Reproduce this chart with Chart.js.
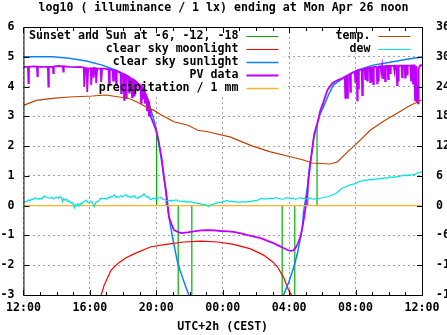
<!DOCTYPE html>
<html>
<head>
<meta charset="utf-8">
<style>
  html, body { margin: 0; padding: 0; background: #fff; overflow: hidden; }
  #wrap { width: 447px; height: 335px; }
</style>
<script src="https://cdn.jsdelivr.net/npm/chart.js@4.4.1/dist/chart.umd.min.js"></script>
</head>
<body>
<div id="wrap"><canvas id="c" width="447" height="335"></canvas></div>
<script>
// Hours are counted from 12:00 (noon) on the previous day; values are log10(lx),
// temperatures are in degrees C on the right-hand axis.
const xTickLabels = ['12:00', '16:00', '20:00', '00:00', '04:00', '08:00', '12:00'];

// Sunset, civil / nautical / astronomical dusk, then the same in reverse at dawn
const sunEventHours  = [8.02, 8.60, 9.32, 10.14, 15.58, 16.34, 17.12, 17.68];
const sunEventLevels = [2.48, 0.25, -4.0, -4.0, -4.0, -4.0, 0.55, 2.70];

const moonlight = [
  [4.50, -3.3], [4.68, -3.0], [4.86, -2.67], [5.28, -2.16], [5.70, -1.93], [6.18, -1.75],
  [6.66, -1.62], [7.68, -1.38], [8.70, -1.29], [9.66, -1.22], [10.68, -1.19], [11.70, -1.22],
  [12.66, -1.30], [13.68, -1.45], [14.46, -1.66], [15.00, -1.88], [15.30, -2.06], [15.66, -2.40],
  [15.96, -2.83], [16.14, -3.0], [16.26, -3.2]
];

const sunlightEvening = [
  [0, 5.00], [1.74, 5.00], [2.76, 4.95], [3.78, 4.86], [4.74, 4.72], [5.58, 4.55], [6.18, 4.38],
  [6.66, 4.21], [7.14, 3.99], [7.44, 3.65], [7.68, 3.21], [7.86, 2.87], [8.10, 2.30], [8.40, 1.19],
  [8.58, 0.42], [8.70, -0.15], [8.82, -0.58], [8.94, -0.95], [9.06, -1.30], [9.30, -1.95],
  [9.60, -2.45], [9.78, -2.73], [9.96, -3.0], [10.20, -3.4]
];
const sunlightMorning = [
  [15.40, -3.4], [15.66, -3.0], [15.96, -2.6], [16.26, -2.1], [16.50, -1.6], [16.68, -1.1],
  [16.80, -0.72], [16.86, -0.25], [16.98, 0.19], [17.10, 0.62], [17.22, 1.29], [17.40, 1.87],
  [17.46, 2.20], [17.70, 2.77], [17.88, 3.10], [18.06, 3.31], [18.36, 3.71], [18.66, 4.05],
  [19.26, 4.28], [20.10, 4.55], [21.06, 4.72], [22.08, 4.82], [23.10, 4.92], [24, 4.99]
];

const pvData = [
  [0, 4.65], [0.20, 4.66], [0.27, 4.66], [0.30, 4.12], [0.33, 4.66], [0.60, 4.68], [0.81, 4.67],
  [0.84, 4.35], [0.87, 4.67], [1.20, 4.66], [1.47, 4.66], [1.50, 4.00], [1.53, 4.66], [1.77, 4.67],
  [1.80, 4.45], [1.83, 4.67], [2.10, 4.69], [2.37, 4.68], [2.40, 4.50], [2.43, 4.68], [2.80, 4.66],
  [3.10, 4.65], [3.40, 4.66], [3.63, 4.64], [3.66, 3.99], [3.72, 4.62], [3.81, 4.62], [3.84, 3.82],
  [3.90, 4.60], [4.05, 4.62], [4.08, 4.05], [4.14, 4.60], [4.20, 4.62], [4.23, 4.30], [4.29, 4.62],
  [4.35, 4.62], [4.38, 4.11], [4.44, 4.60], [4.65, 4.60], [4.68, 4.15], [4.74, 4.60], [4.90, 4.60],
  [5.13, 4.58], [5.16, 4.05], [5.20, 4.58], [5.37, 4.55], [5.40, 4.20], [5.45, 4.55], [5.55, 4.53],
  [5.58, 4.05], [5.62, 4.52], [5.85, 4.45], [5.88, 3.78], [5.92, 4.44], [6.03, 4.42], [6.06, 3.55],
  [6.10, 4.40], [6.15, 4.38], [6.18, 3.62], [6.22, 4.37], [6.33, 4.33], [6.36, 3.80], [6.40, 4.30],
  [6.50, 4.25], [6.54, 3.65], [6.58, 4.24], [6.63, 4.22], [6.66, 3.70], [6.70, 4.20], [6.75, 4.17],
  [6.78, 3.90], [6.82, 4.15], [6.95, 4.08], [7.05, 4.02], [7.08, 3.45], [7.12, 4.00], [7.17, 3.95],
  [7.20, 3.60], [7.24, 3.90], [7.29, 3.85], [7.32, 3.45], [7.36, 3.75], [7.41, 3.68], [7.44, 3.20],
  [7.48, 3.60], [7.53, 3.45], [7.56, 3.00], [7.60, 3.30], [7.68, 2.97],
  [7.80, 2.80], [7.98, 2.54], [8.16, 2.10], [8.34, 1.53], [8.46, 0.96], [8.58, 0.52], [8.70, -0.05],
  [8.76, -0.38], [8.94, -0.65], [9.06, -0.82], [9.30, -0.88], [9.48, -0.92],
  [9.90, -0.90], [10.26, -0.86], [10.70, -0.83], [11.10, -0.82], [11.50, -0.83], [11.88, -0.85],
  [12.30, -0.86], [12.66, -0.88], [13.10, -0.93], [13.50, -0.99], [13.90, -1.04], [14.28, -1.09],
  [14.70, -1.18], [15.06, -1.26], [15.40, -1.35], [15.66, -1.42], [15.90, -1.49], [16.08, -1.52],
  [16.25, -1.50], [16.38, -1.42], [16.50, -1.30], [16.56, -1.22], [16.70, -1.00], [16.80, -0.72],
  [16.90, -0.40], [16.98, -0.10],
  [17.10, 0.42], [17.16, 0.86], [17.28, 1.43], [17.40, 1.97], [17.52, 2.43], [17.70, 2.77],
  [17.88, 3.20], [18.06, 3.47], [18.30, 3.88], [18.60, 4.11], [18.90, 4.21], [19.20, 4.28],
  [19.35, 4.33], [19.38, 3.62], [19.42, 4.35], [19.47, 4.36], [19.50, 3.62], [19.54, 4.38],
  [19.65, 4.42], [19.68, 3.82], [19.72, 4.44], [19.85, 4.48], [19.95, 4.50], [19.98, 4.16],
  [20.02, 4.52], [20.07, 4.53], [20.10, 3.54], [20.13, 4.54], [20.16, 3.94], [20.20, 4.55],
  [20.37, 4.57], [20.40, 3.71], [20.44, 4.58], [20.55, 4.60], [20.58, 4.25], [20.62, 4.60],
  [20.67, 4.62], [20.70, 4.20], [20.74, 4.62], [20.85, 4.63], [20.88, 4.15], [20.92, 4.64],
  [20.97, 4.64], [21.00, 4.20], [21.03, 4.65], [21.06, 4.08], [21.10, 4.66], [21.27, 4.66],
  [21.30, 4.11], [21.33, 4.66], [21.36, 4.20], [21.40, 4.67], [21.50, 4.68], [21.55, 4.45],
  [21.60, 4.68], [21.66, 4.28], [21.70, 4.68], [21.75, 4.68], [21.78, 4.18], [21.82, 4.69],
  [21.93, 4.69], [21.96, 4.25], [22.00, 4.69], [22.05, 4.69], [22.08, 4.45], [22.12, 4.69],
  [22.30, 4.70], [22.35, 4.50], [22.40, 4.70], [22.47, 4.70], [22.50, 4.05], [22.53, 4.70],
  [22.56, 4.20], [22.60, 4.70], [22.77, 4.70], [22.80, 4.32], [22.84, 4.70], [22.95, 4.70],
  [22.98, 4.30], [23.02, 4.70], [23.07, 4.70], [23.10, 4.40], [23.14, 4.70], [23.30, 4.71],
  [23.34, 4.20], [23.38, 4.71], [23.43, 4.71], [23.46, 4.10], [23.50, 4.71], [23.55, 4.71],
  [23.58, 3.54], [23.61, 4.70], [23.64, 3.65], [23.67, 4.70], [23.70, 3.49], [23.73, 4.00],
  [23.76, 3.44], [23.80, 4.60], [23.88, 4.70], [23.92, 4.72], [24, 4.71]
];

const precipitation = [[0, 0], [6, 0], [12, 0], [18, 0], [24, 0]];

const temperature = [
  [0, 20.2], [0.78, 21.2], [1.74, 21.6], [2.76, 21.9], [4.14, 22.1], [4.98, 22.3], [5.76, 21.9],
  [6.36, 21.6], [6.84, 20.9], [7.38, 19.9], [7.86, 19.2], [8.28, 18.3], [9.06, 16.9], [9.90, 16.2],
  [10.50, 15.2], [11.10, 14.9], [12.48, 13.8], [13.80, 12.0], [14.88, 10.85], [16.08, 9.85],
  [16.86, 9.2], [17.40, 8.6], [17.88, 8.5], [18.48, 8.4], [18.90, 8.8], [19.50, 10.8],
  [20.10, 12.6], [20.88, 15.2], [21.78, 17.2], [22.50, 18.6], [23.28, 20.2], [24, 21.3]
];

const dewPoint = [
  [0, 0.5], [0.1, 0.9], [0.18, 0.8], [0.3, 1.2], [0.4, 1.0], [0.48, 1.3], [0.6, 1.2], [0.7, 1.6],
  [0.78, 1.5], [0.9, 1.3], [1.0, 1.5], [1.08, 1.3], [1.18, 1.7], [1.26, 2.0], [1.36, 1.7], [1.5, 1.6],
  [1.6, 1.5], [1.7, 1.7], [1.8, 1.4], [1.9, 1.6], [2.0, 1.7], [2.1, 1.5], [2.2, 1.8], [2.28, 1.6],
  [2.36, 0.8], [2.42, 1.4], [2.5, 1.1], [2.58, 1.3], [2.66, 0.8], [2.76, 1.0], [2.84, 0.5], [2.92, 0.7],
  [3.0, 0.2], [3.06, -0.4], [3.12, 0.3], [3.2, 0.0], [3.28, 0.4], [3.36, -0.1], [3.44, 0.5], [3.52, 0.3],
  [3.6, 0.8], [3.7, 0.9], [3.78, 1.1], [3.86, 0.7], [3.96, 0.5], [4.04, 0.9], [4.14, 0.7], [4.2, 0.3],
  [4.26, -0.2], [4.34, 0.5], [4.42, 0.8], [4.5, 0.9], [4.6, 1.3], [4.68, 1.5], [4.8, 1.4], [4.9, 1.5],
  [4.98, 1.3], [5.1, 1.7], [5.2, 1.5], [5.28, 1.9], [5.38, 1.8], [5.46, 2.2], [5.56, 1.7], [5.64, 1.9],
  [5.7, 1.6], [5.8, 1.8], [5.88, 2.0], [5.98, 1.8], [6.08, 2.1], [6.18, 2.2], [6.28, 1.8], [6.38, 1.9],
  [6.48, 1.6], [6.58, 1.9], [6.66, 2.0], [6.78, 1.6], [6.9, 1.5], [7.0, 1.9], [7.08, 1.8], [7.18, 2.1],
  [7.26, 2.4], [7.36, 1.9], [7.44, 1.7], [7.5, 1.8], [7.6, 1.4], [7.68, 1.2], [7.78, 1.5], [7.86, 1.4],
  [7.96, 1.6], [8.04, 1.3], [8.1, 1.5], [8.2, 1.6], [8.28, 1.7], [8.4, 1.3], [8.5, 1.2], [8.58, 1.1],
  [8.7, 1.0], [8.8, 1.1], [8.88, 0.9], [9.0, 1.1], [9.1, 1.0], [9.18, 1.2], [9.3, 1.0], [9.4, 0.9],
  [9.48, 0.9], [9.6, 0.8], [9.7, 0.9], [9.78, 0.7], [9.9, 0.8], [10.0, 0.7], [10.08, 0.8], [10.2, 0.7],
  [10.3, 0.5], [10.38, 0.6], [10.5, 0.4], [10.6, 0.4], [10.68, 0.3], [10.8, 0.2], [10.9, 0.3], [10.98, 0.1],
  [11.08, 0.0], [11.16, -0.2], [11.26, 0.1], [11.34, 0.3], [11.4, 0.2], [11.5, 0.4], [11.6, 0.5], [11.7, 0.6],
  [11.8, 0.7], [11.9, 0.6], [12.0, 0.9], [12.1, 0.8], [12.2, 1.0], [12.3, 1.0], [12.4, 0.8], [12.5, 0.9],
  [12.6, 0.8], [12.75, 0.8], [12.9, 0.7], [13.08, 0.7], [13.2, 0.8], [13.35, 0.7], [13.5, 0.8], [13.68, 0.8],
  [13.8, 0.9], [13.92, 1.0], [14.04, 1.0], [14.16, 1.2], [14.28, 1.4], [14.4, 1.4], [14.52, 1.3], [14.64, 1.4],
  [14.76, 1.4], [14.9, 1.5], [15.04, 1.4], [15.18, 1.6], [15.3, 1.5], [15.45, 1.4], [15.6, 1.3], [15.72, 1.4],
  [15.84, 1.6], [15.96, 1.5], [16.1, 1.4], [16.24, 1.5], [16.38, 1.3], [16.5, 1.4], [16.6, 1.6], [16.68, 1.6],
  [16.8, 1.4], [16.9, 1.5], [16.98, 1.3], [17.1, 1.4], [17.2, 1.5], [17.28, 1.5], [17.4, 1.3], [17.5, 1.4],
  [17.58, 1.3], [17.7, 1.5], [17.8, 1.4], [17.88, 1.5], [18.0, 1.6], [18.1, 1.6], [18.18, 1.7], [18.3, 1.8],
  [18.4, 1.9], [18.48, 2.0], [18.6, 2.2], [18.7, 2.3], [18.78, 2.4], [18.9, 2.7], [19.0, 3.0], [19.08, 3.2],
  [19.2, 3.5], [19.3, 3.6], [19.38, 3.8], [19.5, 3.9], [19.6, 4.1], [19.68, 4.2], [19.8, 4.3], [19.9, 4.4],
  [19.98, 4.4], [20.1, 4.6], [20.2, 4.8], [20.28, 4.9], [20.4, 5.0], [20.5, 5.1], [20.58, 5.2], [20.7, 5.1],
  [20.8, 5.3], [20.88, 5.2], [21.0, 5.3], [21.1, 5.2], [21.18, 5.4], [21.3, 5.3], [21.4, 5.5], [21.48, 5.5],
  [21.6, 5.4], [21.7, 5.6], [21.78, 5.6], [21.9, 5.5], [22.0, 5.7], [22.08, 5.8], [22.2, 5.7], [22.3, 5.8],
  [22.38, 5.7], [22.5, 5.9], [22.6, 5.8], [22.68, 6.0], [22.8, 6.0], [22.9, 6.1], [22.98, 6.2], [23.1, 6.0],
  [23.2, 6.2], [23.28, 6.1], [23.4, 6.2], [23.5, 6.3], [23.58, 6.3], [23.68, 6.5], [23.76, 6.6], [23.88, 6.7],
  [24, 6.8]
];

const MONO = '"DejaVu Sans Mono", "Liberation Mono", monospace';
const FONT_SIZE = 11.6;
const toPts = arr => arr.map(p => ({ x: p[0], y: p[1] }));

// vertical impulses from zero up/down to each level, separated by gaps
const impulsePts = [];
sunEventHours.forEach((h, i) => {
  impulsePts.push({ x: h, y: 0 }, { x: h, y: sunEventLevels[i] }, { x: h, y: null });
});

const lineDefaults = { pointRadius: 0, pointHoverRadius: 0, fill: false, tension: 0, spanGaps: false };

const datasets = [
  { label: 'Sunset and Sun at -6, -12, -18', data: impulsePts, borderColor: '#00b000', borderWidth: 1.2, order: 7 },
  { label: 'clear sky moonlight', data: toPts(moonlight), borderColor: '#ff0000', borderWidth: 1.2, order: 6 },
  { label: 'clear sky sunlight',
    data: [...toPts(sunlightEvening), { x: 12.9, y: null }, ...toPts(sunlightMorning)],
    borderColor: '#0a80ff', borderWidth: 1.5, order: 5 },
  { label: 'PV data', data: toPts(pvData), borderColor: '#c000ff', borderWidth: 1.8, order: 4 },
  { label: 'precipitation / 1 mm', data: toPts(precipitation), borderColor: '#ffb428', borderWidth: 1.3, order: 3 },
  { label: 'temp.', data: toPts(temperature), yAxisID: 'y2', borderColor: '#c04000', borderWidth: 1.2, order: 2 },
  { label: 'dew', data: toPts(dewPoint), yAxisID: 'y2', borderColor: '#00e4e4', borderWidth: 1.2, order: 1 }
].map(d => Object.assign({}, lineDefaults, d));

// key: two blocks, text right-aligned with a short line sample after it
const keyColumns = [
  { labels: datasets.slice(0, 5), textRight: 215, sample: [223, 255], box: [7, 1, 254, 66] },
  { labels: datasets.slice(5), textRight: 347, sample: [355, 387], box: [274, 1, 125, 25] }
];

const gnuplotKey = {
  id: 'gnuplotKey',
  beforeDatasetsDraw(chart) {
    const { ctx, chartArea: a } = chart;
    ctx.save();
    ctx.fillStyle = '#ffffff';
    keyColumns.forEach(col => {
      const [bx, by, bw, bh] = col.box;
      ctx.fillRect(a.left + bx, a.top + by, bw, bh);
    });
    ctx.restore();
  },
  afterDatasetsDraw(chart) {
    const { ctx, chartArea: a } = chart;
    ctx.save();
    ctx.font = 'bold ' + FONT_SIZE + 'px ' + MONO;
    ctx.textAlign = 'right';
    ctx.textBaseline = 'middle';
    keyColumns.forEach(col => {
      col.labels.forEach((ds, r) => {
        const y = a.top + 9 + r * 13;
        ctx.fillStyle = '#000';
        ctx.fillText(ds.label, a.left + col.textRight, y);
        ctx.strokeStyle = ds.borderColor;
        ctx.lineWidth = ds.borderWidth;
        ctx.beginPath();
        ctx.moveTo(a.left + col.sample[0], Math.round(y) + 0.5);
        ctx.lineTo(a.left + col.sample[1], Math.round(y) + 0.5);
        ctx.stroke();
      });
    });
    ctx.restore();
  }
};

// frame and inward-pointing tick marks
const frameTicks = {
  id: 'frameTicks',
  afterDraw(chart) {
    const { ctx, chartArea: a, scales } = chart;
    ctx.save();
    ctx.strokeStyle = '#000';
    ctx.lineWidth = 1;
    ctx.strokeRect(a.left + 0.5, a.top + 0.5, a.right - a.left, a.bottom - a.top);
    const seg = (x0, y0, x1, y1) => { ctx.beginPath(); ctx.moveTo(x0, y0); ctx.lineTo(x1, y1); ctx.stroke(); };
    for (let h = 0; h <= 24; h++) {
      const px = Math.round(scales.x.getPixelForValue(h)) + 0.5;
      const len = h % 4 === 0 ? 5 : 3;
      seg(px, a.bottom, px, a.bottom - len);
      seg(px, a.top + 1, px, a.top + 1 + len);
    }
    for (let v = -3; v <= 6; v++) {
      const py = Math.round(scales.y.getPixelForValue(v)) + 0.5;
      seg(a.left + 1, py, a.left + 6, py);
    }
    for (let v = -18; v <= 36; v += 6) {
      const py = Math.round(scales.y2.getPixelForValue(v)) + 0.5;
      seg(a.right, py, a.right - 5, py);
    }
    ctx.restore();
  }
};

const tickFont = { family: MONO, size: FONT_SIZE, weight: 'bold', lineHeight: 1.2 };

new Chart(document.getElementById('c'), {
  type: 'line',
  data: { datasets },
  options: {
    responsive: false,
    animation: false,
    devicePixelRatio: 1,
    events: [],
    layout: { padding: 0 },
    plugins: {
      legend: { display: false },
      tooltip: { enabled: false },
      title: {
        display: true,
        text: 'log10 ( illuminance / 1 lx) ending at Mon Apr 26 noon',
        color: '#000',
        font: tickFont,
        padding: { top: 1, bottom: 12.08 }
      }
    },
    scales: {
      x: {
        type: 'linear',
        min: 0,
        max: 24,
        afterFit(s) { s.height = 40; },
        ticks: {
          stepSize: 4,
          autoSkip: false,
          maxRotation: 0,
          padding: 6,
          color: '#000',
          font: tickFont,
          callback: v => xTickLabels[Math.round(v / 4)]
        },
        grid: { color: '#a0a0a0', lineWidth: 1, drawTicks: false },
        border: { display: false, dash: [2, 3] },
        title: {
          display: true,
          text: 'UTC+2h (CEST)',
          color: '#000',
          font: tickFont,
          padding: { top: 0, bottom: 0.8 }
        }
      },
      y: {
        type: 'linear',
        position: 'left',
        min: -3,
        max: 6,
        afterFit(s) { s.width = 22; },
        ticks: { stepSize: 1, padding: 9, color: '#000', font: tickFont, callback: v => String(v) },
        grid: { color: '#a0a0a0', lineWidth: 1, drawTicks: false },
        border: { display: false, dash: [2, 3] }
      },
      y2: {
        type: 'linear',
        position: 'right',
        min: -18,
        max: 36,
        afterFit(s) { s.width = 25; },
        ticks: { stepSize: 6, padding: 14, color: '#000', font: tickFont, callback: v => String(v) },
        grid: { display: false, drawTicks: false },
        border: { display: false }
      }
    }
  },
  plugins: [gnuplotKey, frameTicks]
});
</script>
</body>
</html>
